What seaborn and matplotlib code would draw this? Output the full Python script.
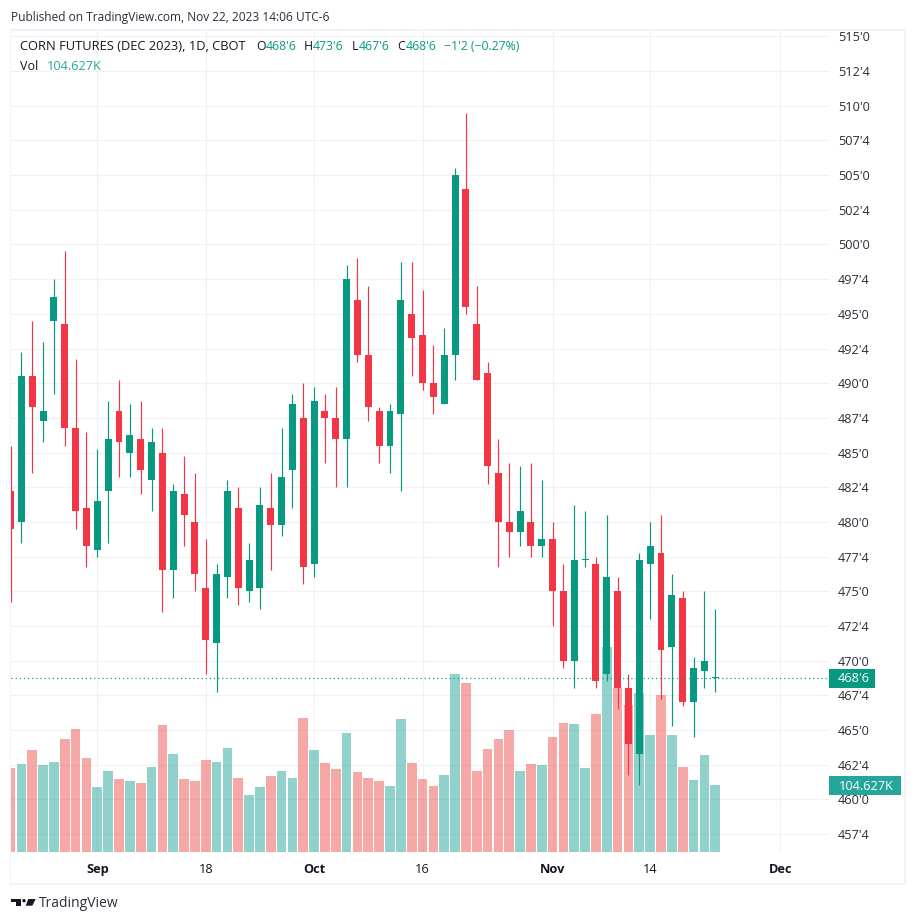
import numpy as np
import pandas as pd
import matplotlib
matplotlib.use("Agg")
import matplotlib.pyplot as plt
from matplotlib.patches import Rectangle, Polygon, Circle
import seaborn as sns

W, H = 916, 923

# open, high, low, close, volume (K), one row per session from late Aug 2023
rows = [
    (482.25, 485.5, 474.25, 479.5, 131.2), (480, 492.25, 478.5, 490.5, 137.4),
    (490.5, 494.5, 483.5, 488.25, 159.3), (487.25, 493, 485.75, 488, 135.9),
    (494.5, 497.5, 489.25, 496.25, 140.5), (494.25, 499.5, 485.5, 486.75, 176.5),
    (486.75, 491.75, 479.5, 480.75, 192.1), (481, 486.5, 476.75, 478.25, 146.8),
    (478, 485.25, 477.5, 481.5, 101.5), (482.25, 488.75, 478.5, 486, 126.5),
    (488, 490.25, 483.25, 485.75, 114), (485, 488.5, 483.25, 486.25, 110.9),
    (486, 488.75, 482, 483.75, 107.7), (483, 486.75, 480.75, 485.75, 132.7),
    (485, 486.75, 473.5, 476.5, 198.3), (476.5, 482.75, 474.5, 482.25, 153),
    (482, 484.75, 478.25, 480.5, 114), (480, 483.5, 475, 476.25, 110.9),
    (475.25, 478.75, 469, 471.5, 143.7), (471.25, 477, 467.75, 476.25, 140.5),
    (476, 483, 474.5, 482.25, 162.4), (481, 482.5, 474, 475.25, 115.6),
    (475, 478.5, 474.25, 477.25, 89), (475.25, 482.5, 473.75, 481.25, 101.5),
    (481, 483.5, 476.5, 479.75, 118.7), (479.75, 486.75, 479, 483.25, 126.5),
    (483.75, 489.25, 481, 488.5, 115.6), (487.5, 490, 475.5, 476.75, 209.2),
    (477, 489.75, 476, 488.75, 159.3), (488, 489.25, 484.25, 487.5, 139),
    (487.5, 489.75, 482.5, 486, 129.6), (486, 498.5, 482.5, 497.5, 185.8),
    (496, 499, 491.5, 492, 124.9), (492, 497, 487.25, 488.25, 115.6),
    (488, 488.25, 484.25, 485.5, 110.9), (485.5, 488.5, 483.5, 488, 103.1),
    (487.75, 498.75, 482.25, 496, 207.7), (495, 498.75, 490.5, 493.25, 139),
    (493.5, 496.75, 489.5, 490, 114), (490, 492.75, 487.75, 489, 103.1),
    (488.5, 494, 488.5, 492, 120.2), (492, 505.5, 490.25, 505, 278),
    (504, 509.5, 495, 495.5, 263.9), (494.25, 497, 490.25, 490.25, 126.5),
    (490.75, 491.5, 482.75, 484, 160.8), (483.5, 486, 476.75, 480, 176.5),
    (480, 484.25, 477.5, 479.25, 190.5), (479.25, 484, 478.25, 480.75, 126.5),
    (480, 484.25, 477.5, 478.25, 137.4), (478.25, 483, 477.5, 478.75, 135.9),
    (478.75, 480, 472.5, 475, 179.6), (475, 477, 469.5, 470, 201.4),
    (470, 481.25, 468, 477.25, 199.9), (477.25, 480.75, 476.75, 477.25, 131.2),
    (477, 477.5, 468, 468.5, 215.5), (469, 480.5, 468.5, 476, 320),
    (475, 476, 466.5, 468, 256.1), (468, 469, 461.75, 464, 229.6),
    (463.25, 477.75, 461, 477.25, 248.3), (477, 480, 473, 478.25, 182.7),
    (477.75, 480.5, 467.25, 470.75, 245.2), (471, 476.25, 465.25, 474.75, 182.7),
    (474.5, 475, 466.75, 467, 132.7), (467, 470.25, 464.5, 469.5, 112.4),
    (469.25, 475, 468, 470, 151.5), (468.75, 473.75, 467.75, 468.75, 104.627),
]
df = pd.DataFrame(rows, columns=["open", "high", "low", "close", "vol"])
df["i"] = df.index
df["dir"] = np.where(df["close"] >= df["open"], "up", "down")

UP, DOWN = "#089981", "#f23645"
TXT = "#131722"
GRID = "#f1f1f4"

sns.set_style("white")
plt.rcParams["font.family"] = ["Open Sans", "DejaVu Sans"]

fig = plt.figure(figsize=(W / 100, H / 100), dpi=100)
pos = [11 / W, 1 - 852 / H, (829 - 11) / W, (852 - 31) / H]

# bottom layer: grid and the two scales
ax = fig.add_axes(pos, zorder=1)
px_per_bar = 10.84
x0 = 10.6
xlim = ((11 - x0) / px_per_bar, (829 - x0) / px_per_bar)
ylim = (470 + (660.6 - 852) / 13.87, 470 + (660.6 - 31) / 13.87)
ax.set_xlim(xlim)
ax.set_ylim(ylim)
for s in ax.spines.values():
    s.set_visible(False)

yt = np.arange(457.5, 515.1, 2.5)
ax.yaxis.tick_right()
ax.set_yticks(yt)
ax.set_yticklabels([f"{int(p)}'{int(round((p % 1) * 8))}" for p in yt], fontsize=9.2, color="#2a2e39")
xt = [8, 18, 28, 38, 50, 59, 71]
ax.set_xticks(xt)
ax.set_xticklabels(["Sep", "18", "Oct", "16", "Nov", "14", "Dec"], fontsize=9.2, color=TXT)
for lab in ax.get_xticklabels():
    if lab.get_text() in ("Sep", "Oct", "Nov", "Dec"):
        lab.set_fontweight("bold")
ax.tick_params(axis="y", length=0, pad=6.5)
ax.tick_params(axis="x", length=0, pad=8)
ax.grid(True, color=GRID, linewidth=0.8)
ax.set_axisbelow(True)

# volume
ax_vol = fig.add_axes(pos, zorder=2)
ax_vol.patch.set_visible(False)
sns.barplot(data=df, x="i", y="vol", hue="dir", palette={"up": "#26a69a", "down": "#ef5350"},
            native_scale=True, dodge=False, width=0.89, alpha=0.5, saturation=1,
            linewidth=0, legend=False, ax=ax_vol)
ax_vol.set_xlim(xlim)
ax_vol.set_ylim(0, 821 * 1.5616)
ax_vol.axis("off")

# candles
ax_c = fig.add_axes(pos, zorder=3)
ax_c.patch.set_visible(False)
colors = df["dir"].map({"up": UP, "down": DOWN})
ax_c.vlines(df["i"], df["low"], df["high"], colors=colors, linewidth=0.85)
body = (df["close"] - df["open"]).abs().clip(lower=0.08)
ax_c.bar(df["i"], body, bottom=df[["open", "close"]].min(axis=1), width=0.645, color=colors, linewidth=0)
ax_c.axhline(df["close"].iloc[-1], color=UP, linewidth=0.85, linestyle=(0, (1, 2.5)))
ax_c.set_xlim(xlim)
ax_c.set_ylim(ylim)
ax_c.axis("off")


def px_text(x, y, s, color=TXT, size=8.6, **kw):
    fig.text(x / W, 1 - y / H, s, color=color, fontsize=size, va="center", zorder=10, **kw)


def px_rect(x1, y1, x2, y2, color):
    fig.add_artist(Rectangle((x1 / W, 1 - y2 / H), (x2 - x1) / W, (y2 - y1) / H,
                             transform=fig.transFigure, facecolor=color, edgecolor="none", zorder=9))


# frame around the chart
BORDER = "#f0f3fa"
px_rect(10, 29, 906, 31, BORDER)
px_rect(10, 883, 906, 885, BORDER)
px_rect(10, 29, 11, 885, BORDER)
px_rect(904, 29, 906, 885, BORDER)

# header and legend
px_text(11, 17, "Published on TradingView.com, Nov 22, 2023 14:06 UTC-6", color="#2a2e39", size=8.6)
px_text(20, 47, "CORN FUTURES (DEC 2023), 1D, CBOT", size=9.3)
GREEN = "#089981"
for x, s, c in [(256.5, "O", TXT), (266, "468'6", GREEN), (304, "H", TXT), (312.5, "473'6", GREEN),
                (351.5, "L", TXT), (359, "467'6", GREEN), (397.5, "C", TXT), (405.5, "468'6", GREEN),
                (444, "\u22121'2 (\u22120.27%)", GREEN)]:
    px_text(x, 47, s, color=c, size=8.8)
px_text(20, 66, "Vol", size=9.0)
px_text(47, 66, "104.627K", color="#26a69a", size=9.2)

# last value labels on the price scale
px_rect(829, 669, 875, 688, "#089981")
px_text(838, 678.5, "468'6", color="white", size=9.2)
px_rect(829, 776, 901, 795, "#26a69a")
px_text(839, 786, "104.627K", color="white", size=9.2)

# TradingView logo
logo = [[(11, 899), (21, 899), (21, 905.7), (16, 905.7), (16, 902.3), (11, 902.3)],
        [(28.3, 899), (35.7, 899), (32.3, 905.7), (25.7, 905.7)]]
for pts in logo:
    fig.add_artist(Polygon([(x / W, 1 - y / H) for x, y in pts], closed=True, transform=fig.transFigure,
                           facecolor=TXT, edgecolor="none"))
fig.add_artist(Circle((24 / W, 1 - 900.7 / H), 1.7 / W, transform=fig.transFigure, facecolor=TXT, edgecolor="none"))
px_text(39, 903.5, "TradingView", color="#2a2e39", size=10)

fig.savefig("out.png", dpi=100)
